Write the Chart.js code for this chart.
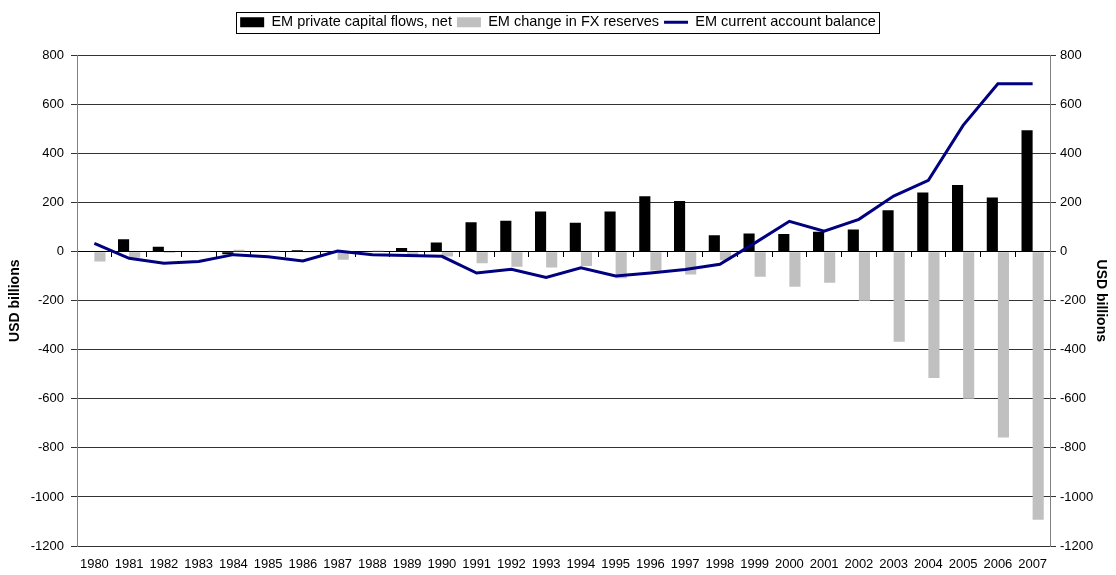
<!DOCTYPE html>
<html>
<head>
<meta charset="utf-8">
<script src="https://cdn.jsdelivr.net/npm/chart.js@4.4.1/dist/chart.umd.min.js"></script>
<style>
  html, body { margin: 0; padding: 0; background: #fff; }
  #wrap { width: 1116px; height: 575px; }
</style>
</head>
<body>
<div id="wrap"><canvas id="chart" width="1116" height="575"></canvas></div>
<script>
// Data (USD billions)
const years = ["1980","1981","1982","1983","1984","1985","1986","1987","1988","1989",
  "1990","1991","1992","1993","1994","1995","1996","1997","1998","1999",
  "2000","2001","2002","2003","2004","2005","2006","2007"];

const privateFlows = [3, 51, 20, 3, -10, 2, 6, 2, 3, 15,
  38, 120, 126, 164, 118, 164, 226, 207, 67, 74,
  72, 81, 91, 169, 241, 272, 221, 495];

const fxReserves = [-40, -25, -5, 4, 8, 5, -3, -33, 5, -15,
  -20, -47, -61, -64, -58, -108, -77, -93, -35, -102,
  -143, -127, -200, -367, -515, -600, -758, -1093];

const currentAccount = [34, -27, -47, -40, -12, -21, -38, 3, -12, -15,
  -19, -87, -72, -105, -66, -99, -87, -73, -51, 35,
  124, 84, 132, 227, 291, 515, 685, 685];

const yTicks = { min: -1200, max: 800, step: 200 };

const FONT = "Arial, 'Liberation Sans', sans-serif";

// Legend frame + extra room under the legend
const legendBorder = {
  id: "legendBorder",
  beforeInit(chart) {
    const fit = chart.legend.fit;
    chart.legend.fit = function () {
      fit.bind(chart.legend)();
      this.height += 16;
    };
  },
  afterDraw(chart) {
    const boxes = chart.legend.legendHitBoxes;
    if (!boxes || !boxes.length) return;
    let l = Infinity, r = -Infinity, t = Infinity, b = -Infinity;
    boxes.forEach(h => {
      l = Math.min(l, h.left); r = Math.max(r, h.left + h.width);
      t = Math.min(t, h.top); b = Math.max(b, h.top + h.height);
    });
    const ctx = chart.ctx;
    ctx.save();
    ctx.strokeStyle = "#000";
    ctx.lineWidth = 1;
    const x0 = Math.round(l - 4) + 0.5, y0 = Math.round(t - 3) + 0.5;
    const x1 = Math.round(r + 3) + 0.5, y1 = Math.round(b + 3) + 0.5;
    ctx.strokeRect(x0, y0, x1 - x0, y1 - y0);
    ctx.restore();
  }
};

const plainTick = v => String(v);

const ctx = document.getElementById("chart").getContext("2d");
new Chart(ctx, {
  type: "bar",
  data: {
    labels: years,
    datasets: [
      {
        label: "EM private capital flows, net",
        data: privateFlows,
        backgroundColor: "#000",
        borderWidth: 0,
        pointStyle: "rect",
        order: 1
      },
      {
        label: "EM change in FX reserves",
        data: fxReserves,
        backgroundColor: "#c0c0c0",
        borderWidth: 0,
        pointStyle: "rect",
        order: 1
      },
      {
        type: "line",
        label: "EM current account balance",
        data: currentAccount,
        borderColor: "#000080",
        backgroundColor: "#000080",
        borderWidth: 3,
        pointRadius: 0,
        pointStyle: "line",
        tension: 0,
        order: 0
      }
    ]
  },
  options: {
    responsive: false,
    animation: false,
    layout: { padding: { top: 10, left: 0, right: 0, bottom: 0 } },
    plugins: {
      legend: {
        position: "top",
        labels: {
          color: "#000",
          font: { family: FONT, size: 14.5 },
          usePointStyle: true,
          pointStyleWidth: 24,
          boxHeight: 10,
          padding: 5,
          sort: (a, b) => a.datasetIndex - b.datasetIndex
        }
      },
      tooltip: { enabled: false }
    },
    datasets: {
      bar: { barPercentage: 1, categoryPercentage: 0.64 }
    },
    scales: {
      x: {
        position: "bottom",
        grid: { display: false },
        border: { display: false },
        ticks: {
          color: "#000",
          font: { family: FONT, size: 13 },
          autoSkip: false,
          maxRotation: 0,
          minRotation: 0,
          padding: 3
        },
        afterFit(scale) { scale.height = 29; }
      },
      x0: {
        type: "category",
        labels: years,
        position: { y: 0 },
        offset: true,
        ticks: { display: false },
        grid: { drawOnChartArea: false, offset: true, tickLength: 5, color: "#000" },
        border: { display: true, color: "#000" }
      },
      y: {
        position: "left",
        min: yTicks.min,
        max: yTicks.max,
        ticks: { stepSize: yTicks.step, color: "#000", font: { family: FONT, size: 13 }, padding: 7, callback: plainTick },
        grid: { color: "#333", tickLength: 6 },
        border: { color: "#808080" },
        title: { display: true, text: "USD billions", color: "#000", font: { family: FONT, size: 14, weight: "bold" }, padding: { top: 7, bottom: 0 } },
        afterFit(scale) { scale.width = 77; }
      },
      y1: {
        position: "right",
        min: yTicks.min,
        max: yTicks.max,
        ticks: { stepSize: yTicks.step, color: "#000", font: { family: FONT, size: 13 }, padding: 4, callback: plainTick },
        grid: { drawOnChartArea: false, color: "#333", tickLength: 6 },
        border: { color: "#808080" },
        title: { display: true, text: "USD billions", color: "#000", font: { family: FONT, size: 14, weight: "bold" }, padding: { top: 7, bottom: 0 } },
        afterFit(scale) { scale.width = 66; }
      }
    }
  },
  plugins: [legendBorder]
});
</script>
</body>
</html>
